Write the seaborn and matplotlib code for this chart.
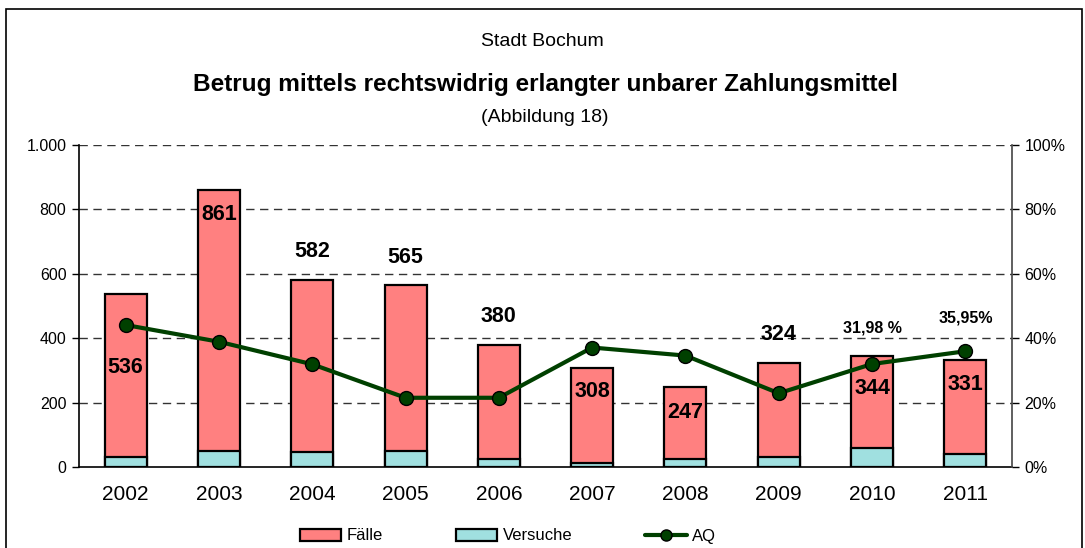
import matplotlib
matplotlib.use('Agg')
import matplotlib.pyplot as plt
import matplotlib.ticker as mticker
import numpy as np
import pandas as pd
import seaborn as sns
from matplotlib.lines import Line2D
from matplotlib.patches import Patch, Rectangle

# Values
YEARS = ['2002', '2003', '2004', '2005', '2006', '2007', '2008', '2009', '2010', '2011']
FAELLE = [536, 861, 582, 565, 380, 308, 247, 324, 344, 331]
VERSUCHE = [32, 51, 46, 51, 25, 11, 25, 32, 58, 39]
AQ = [44.1, 38.9, 31.9, 21.5, 21.5, 37.1, 34.6, 22.9, 31.98, 35.95]

# Where the bar labels sit (left axis units) - layout only
LABEL_Y = [308, 783, 668, 652, 466, 234, 168, 410, 245, 255]
PCT_LABEL_Y = {8: 433, 9: 464}

RED = '#FF8080'
CYAN = '#A0E0E0'
GREEN = '#004000'

sns.set_style('white')
plt.rcParams['font.family'] = ['Liberation Sans', 'DejaVu Sans']
plt.rcParams['text.color'] = 'black'
plt.rcParams['xtick.color'] = 'black'
plt.rcParams['ytick.color'] = 'black'

df = pd.DataFrame({'Jahr': YEARS, 'Faelle': FAELLE, 'Versuche': VERSUCHE, 'AQ': AQ})
df['pos'] = np.arange(len(df))

fig = plt.figure(figsize=(10.85, 5.48), dpi=100)
ax = fig.add_axes([79 / 1085, 81 / 548, 933 / 1085, 322 / 548])

sns.barplot(data=df, x='Jahr', y='Faelle', color=RED, width=0.45, saturation=1,
            edgecolor='black', linewidth=1.6, ax=ax, zorder=2)
sns.barplot(data=df, x='Jahr', y='Versuche', color=CYAN, width=0.45, saturation=1,
            edgecolor='black', linewidth=1.6, ax=ax, zorder=3)

ax.set_xlim(-0.5, 9.5)
ax.set_ylim(0, 1000)
ax.set_yticks([0, 200, 400, 600, 800, 1000])
ax.yaxis.set_major_formatter(mticker.FuncFormatter(lambda v, p: f'{int(v):,}'.replace(',', '.')))
ax.set_xlabel('')
ax.set_ylabel('')

for y in [200, 400, 600, 800, 1000]:
    ax.axhline(y, color='#333333', linestyle=(0, (6, 4)), linewidth=1, zorder=1)

ax.xaxis.set_minor_locator(mticker.FixedLocator(np.arange(-0.5, 10, 1)))
ax.tick_params(axis='x', which='major', length=0, labelsize=15, pad=13)
ax.tick_params(axis='x', which='minor', length=6, width=1, direction='out', color='black')
ax.tick_params(axis='y', length=5, width=1, direction='out', color='black', labelsize=11.5, pad=4)

for side in ['top', 'right']:
    ax.spines[side].set_visible(False)
ax.spines['left'].set_color('black')
ax.spines['bottom'].set_color('black')
ax.spines['left'].set_linewidth(1.2)
ax.spines['bottom'].set_linewidth(1.2)

ax2 = ax.twinx()
sns.lineplot(data=df, x='pos', y='AQ', color=GREEN, linewidth=3, marker='o',
             markersize=10, markerfacecolor=GREEN, markeredgecolor='black',
             markeredgewidth=1, ax=ax2, zorder=5)
ax2.set_xlim(-0.5, 9.5)
ax2.set_ylim(0, 100)
ax2.set_yticks([0, 20, 40, 60, 80, 100])
ax2.yaxis.set_major_formatter(mticker.FuncFormatter(lambda v, p: f'{int(v)}%'))
ax2.set_xlabel('')
ax2.set_ylabel('')
ax2.tick_params(axis='y', length=5, width=1, direction='out', color='black', labelsize=11.5, pad=4)
for side in ['top', 'left', 'bottom']:
    ax2.spines[side].set_visible(False)
ax2.spines['right'].set_color('#444444')
ax2.spines['right'].set_linewidth(1.2)

# bar value labels
for i, (v, ly) in enumerate(zip(FAELLE, LABEL_Y)):
    ax2.text(i, ly / 10, str(v), ha='center', va='center', fontsize=15.5,
             fontweight='bold', color='black', zorder=6)

for i, ly in PCT_LABEL_Y.items():
    txt = f'{AQ[i]:.2f}'.replace('.', ',')
    txt = txt + (' %' if i == 8 else '%')
    ax2.text(i, ly / 10, txt, ha='center', va='center', fontsize=11.5,
             fontweight='bold', color='black', zorder=6)

# titles
fig.text(0.5, (548 - 42) / 548, 'Stadt Bochum', ha='center', va='center', fontsize=14)
fig.text(0.503, (548 - 84) / 548, 'Betrug mittels rechtswidrig erlangter unbarer Zahlungsmittel',
         ha='center', va='center', fontsize=17.6, fontweight='bold')
fig.text(0.502, (548 - 117) / 548, '(Abbildung 18)', ha='center', va='center', fontsize=14)

# legend
handles = [
    Patch(facecolor=RED, edgecolor='black', linewidth=1.6, label='Fälle'),
    Patch(facecolor=CYAN, edgecolor='black', linewidth=1.6, label='Versuche'),
    Line2D([0], [0], color=GREEN, linewidth=3, marker='o', markersize=8,
           markerfacecolor=GREEN, markeredgecolor='black', label='AQ'),
]
fig.legend(handles=handles, loc='center', bbox_to_anchor=(0.468, (548 - 536) / 548),
           ncol=3, frameon=False, fontsize=12, columnspacing=4.4, handlelength=2.5,
           handleheight=0.7, handletextpad=0.3)

# outer frame
fig.patches.append(Rectangle((6 / 1085, -0.05), (1082 - 6) / 1085, 0.05 + (548 - 9) / 548,
                             transform=fig.transFigure, fill=False, edgecolor='black',
                             linewidth=1.2, zorder=0))

fig.savefig('out.png', dpi=100)
